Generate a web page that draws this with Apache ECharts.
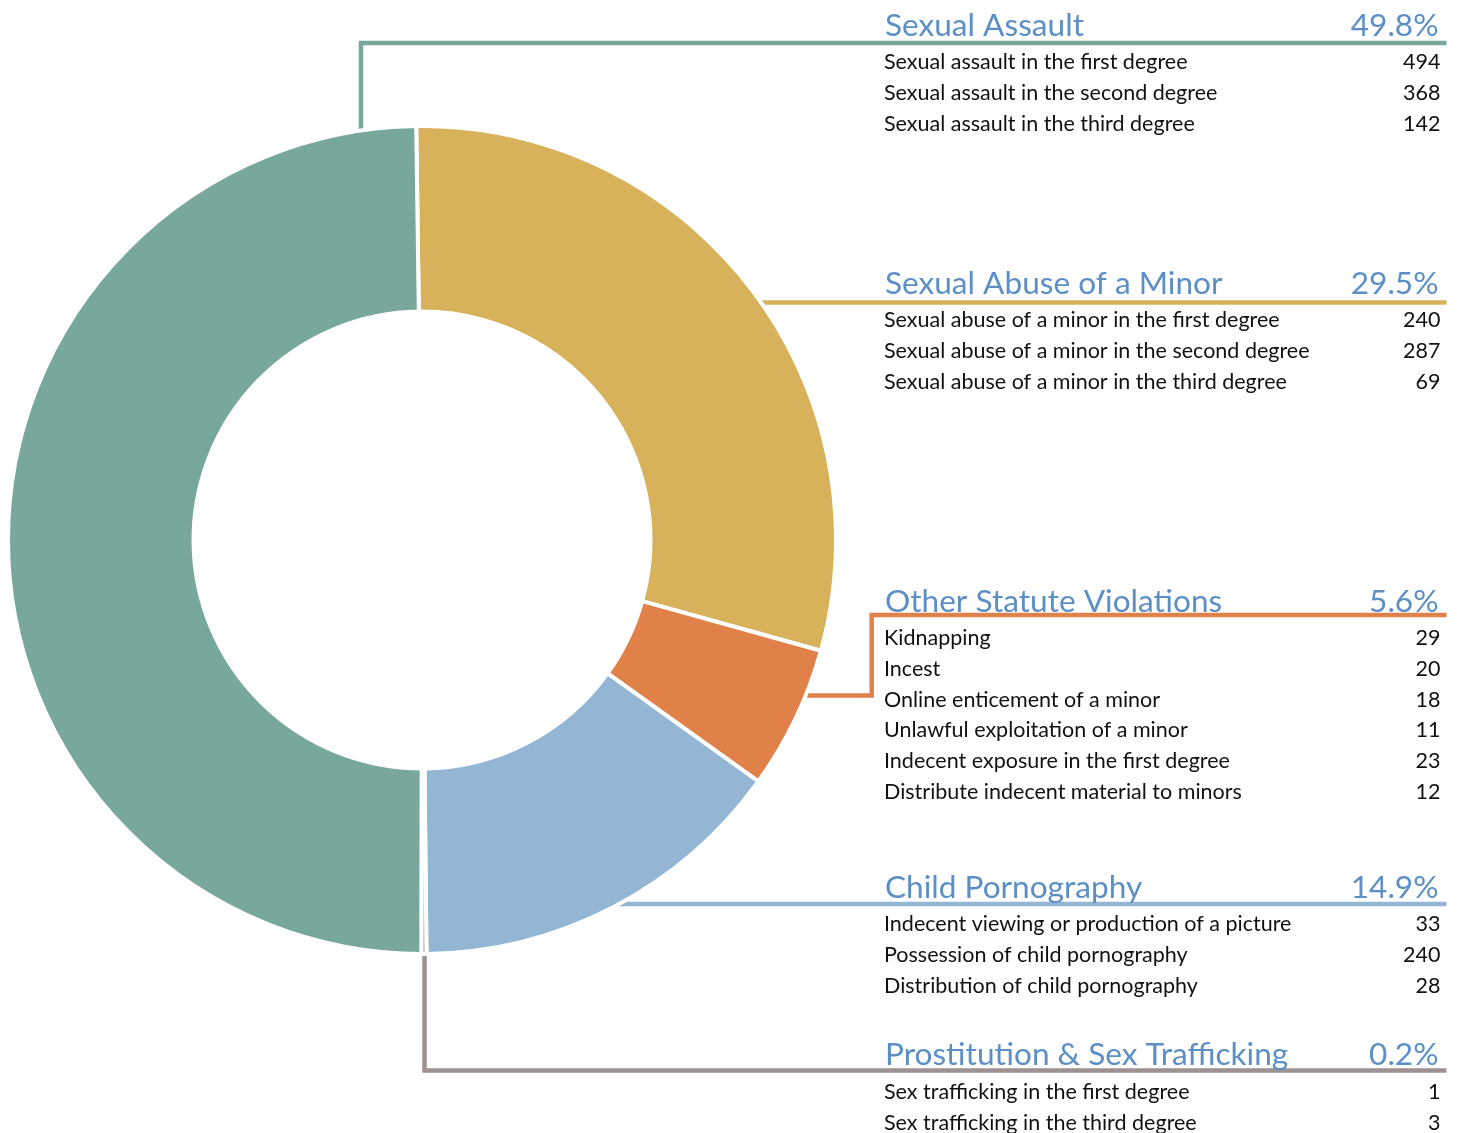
<!DOCTYPE html>
<html>
<head>
<meta charset="utf-8">
<script src="https://cdn.jsdelivr.net/npm/echarts@6/dist/echarts.min.js"></script>
<style>html,body{margin:0;padding:0;background:#fff}#c{width:1460px;height:1133px}</style>
</head>
<body>
<div id="c"></div>
<script>
// ---- data ----
const groupNames = ['Sexual Assault', 'Sexual Abuse of a Minor', 'Other Statute Violations', 'Child Pornography', 'Prostitution & Sex Trafficking'];
const saItems = ['Sexual assault in the first degree', 'Sexual assault in the second degree', 'Sexual assault in the third degree'];
const saCounts = [494, 368, 142];
const samItems = ['Sexual abuse of a minor in the first degree', 'Sexual abuse of a minor in the second degree', 'Sexual abuse of a minor in the third degree'];
const samCounts = [240, 287, 69];
const osvItems = ['Kidnapping', 'Incest', 'Online enticement of a minor', 'Unlawful exploitation of a minor', 'Indecent exposure in the first degree', 'Distribute indecent material to minors'];
const osvCounts = [29, 20, 18, 11, 23, 12];
const cpItems = ['Indecent viewing or production of a picture', 'Possession of child pornography', 'Distribution of child pornography'];
const cpCounts = [33, 240, 28];
const pstItems = ['Sex trafficking in the first degree', 'Sex trafficking in the third degree'];
const pstCounts = [1, 3];
// pie order (clockwise from 12 o'clock)
const pieOrder = [1, 2, 3, 4, 0];

// ---- styles / layout ----
const colors = ['#78a89b', '#d7b25b', '#df8148', '#94b6d5', '#9e9191'];
const CX = 422, CY = 540, BW = 4, R0 = 228.5, R1 = 414;
const FONT = 'Lato';
const HEAD_FS = 31.6, ITEM_FS = 21.5, BASE_K = 0.306;
const textLeft = 884, headRight = 1438.5, textRight = 1440.5, lineRight = 1446.5;
const lineYs = [43, 302.5, 615, 904, 1070.5];
const headBase = [35.5, 293.5, 611, 897, 1064];
const firstItemY = [62, 320, 638, 924, 1092];
const rowGap = 30.8;
// leader paths before reaching the header rule (start inside the ring, hidden under the pie)
const leaderStarts = [
  [[361, 200], [361, 43]],
  [[700, 302.5]],
  [[780, 695.5], [871.7, 695.5], [871.7, 615]],
  [[560, 904]],
  [[424.5, CY + R1 - 4], [424.5, 1070.5]]
];

const itemLists = [saItems, samItems, osvItems, cpItems, pstItems];
const countLists = [saCounts, samCounts, osvCounts, cpCounts, pstCounts];
const totals = countLists.map(a => a.reduce((s, v) => s + v, 0));
const grand = totals.reduce((s, v) => s + v, 0);

const pieData = pieOrder.map(i => ({ name: groupNames[i], value: totals[i], itemStyle: { color: colors[i] } }));

const graphics = [];
for (let g = 0; g < groupNames.length; g++) {
  const pts = leaderStarts[g].concat([[lineRight, lineYs[g]]]);
  graphics.push({ type: 'polyline', z: 0, shape: { points: pts }, style: { stroke: colors[g], lineWidth: 4.5, fill: null, lineJoin: 'miter', lineCap: 'butt' } });
  const hy = headBase[g] - BASE_K * HEAD_FS;
  graphics.push({ type: 'text', z: 10, x: textLeft + 1, y: hy, style: { text: groupNames[g], font: HEAD_FS + 'px ' + FONT, fill: '#5b8fc5', textAlign: 'left', textVerticalAlign: 'middle' } });
  graphics.push({ type: 'text', z: 10, x: headRight, y: hy, style: { text: (totals[g] / grand * 100).toFixed(1) + '%', font: HEAD_FS + 'px ' + FONT, fill: '#5b8fc5', textAlign: 'right', textVerticalAlign: 'middle' } });
  itemLists[g].forEach((name, k) => {
    const y = firstItemY[g] + k * rowGap;
    graphics.push({ type: 'text', z: 10, x: textLeft, y: y, style: { text: name, font: ITEM_FS + 'px ' + FONT, fill: '#111', textAlign: 'left', textVerticalAlign: 'middle' } });
    graphics.push({ type: 'text', z: 10, x: textRight, y: y, style: { text: String(countLists[g][k]), font: ITEM_FS + 'px ' + FONT, fill: '#111', textAlign: 'right', textVerticalAlign: 'middle' } });
  });
}

const chart = echarts.init(document.getElementById('c'), null, { renderer: 'canvas' });
chart.setOption({
  animation: false,
  backgroundColor: '#fff',
  graphic: { elements: graphics },
  series: [{
    type: 'pie',
    z: 5,
    center: [CX, CY],
    radius: [R0, R1],
    startAngle: 90.8,
    clockwise: true,
    minAngle: 0,
    label: { show: false },
    labelLine: { show: false },
    emphasis: { disabled: true },
    itemStyle: { borderColor: '#fff', borderWidth: BW },
    data: pieData
  }]
});
</script>
</body>
</html>
